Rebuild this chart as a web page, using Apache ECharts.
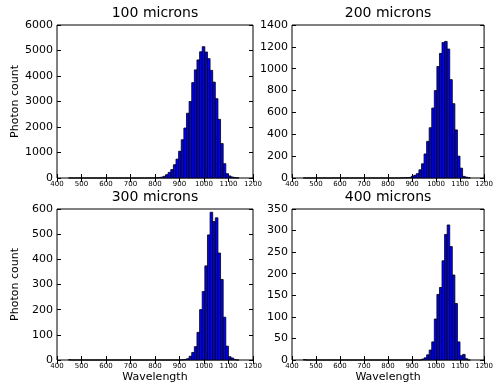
<!DOCTYPE html>
<html>
<head>
<meta charset="utf-8">
<script src="https://cdn.jsdelivr.net/npm/echarts@6/dist/echarts.min.js"></script>
<style>
  html, body { margin: 0; padding: 0; background: #fff; }
  #chart { width: 496px; height: 390px; }
</style>
</head>
<body>
<div id="chart"></div>
<script>
// histogram bin edges (wavelength), shared by all four panels
const binEdges = [
  447, 457.7, 468.4, 479.1, 489.8, 500.5, 511.2, 521.9, 532.6, 543.3,
  554, 564.7, 575.4, 586.1, 596.8, 607.5, 618.2, 628.9, 639.6, 650.3,
  661, 671.7, 682.4, 693.1, 703.8, 714.5, 725.2, 735.9, 746.6, 757.3,
  768, 778.7, 789.4, 800.1, 810.8, 821.5, 832.2, 842.9, 853.6, 864.3,
  875, 885.7, 896.4, 907.1, 917.8, 928.5, 939.2, 949.9, 960.6, 971.3,
  982, 992.7, 1003.4, 1014.1, 1024.8, 1035.5, 1046.2, 1056.9, 1067.6, 1078.3,
  1089, 1099.7, 1110.4, 1121.1, 1131.8, 1142.5
];

// photon counts per bin
const counts100 = [
  1, 0, 0, 0, 0, 0, 0, 0, 0, 0,
  0, 0, 0, 0, 0, 0, 0, 0, 0, 0,
  0, 0, 0, 0, 0, 0, 0, 0, 0, 0,
  1, 2, 4, 8, 15, 30, 65, 130, 220, 330,
  520, 740, 1050, 1500, 1960, 2540, 3000, 3740, 4240, 4630,
  4950, 5150, 4940, 4680, 4220, 3760, 3110, 2300, 1350, 560,
  170, 80, 40, 15, 5
];
const counts200 = [
  1, 0, 0, 0, 0, 0, 0, 0, 0, 0,
  0, 0, 0, 0, 0, 0, 0, 0, 0, 0,
  0, 0, 0, 0, 0, 0, 0, 0, 0, 0,
  0, 0, 0, 0, 0, 0, 0, 0, 1, 2,
  3, 5, 15, 25, 40, 75, 130, 220, 335, 460,
  640, 800, 1020, 1140, 1240, 1250, 1180, 900, 680, 440,
  200, 90, 15, 8, 2
];
const counts300 = [
  1, 0, 0, 0, 0, 0, 0, 0, 0, 0,
  0, 0, 0, 0, 0, 0, 0, 0, 0, 0,
  0, 0, 0, 0, 0, 0, 0, 0, 0, 0,
  0, 0, 0, 0, 0, 0, 0, 0, 0, 0,
  0, 0, 0, 1, 2, 5, 15, 30, 53, 110,
  200, 272, 374, 497, 587, 550, 565, 425, 320, 170,
  55, 13, 8, 2, 0
];
const counts400 = [
  1, 0, 0, 0, 0, 0, 0, 0, 0, 0,
  0, 0, 0, 0, 0, 0, 0, 0, 0, 0,
  0, 0, 0, 0, 0, 0, 0, 0, 0, 0,
  0, 0, 0, 0, 0, 0, 0, 0, 0, 0,
  0, 0, 0, 0, 0, 0, 2, 5, 12, 23,
  42, 95, 152, 168, 230, 291, 313, 263, 197, 131,
  42, 10, 13, 3, 0
];

const panelTitles = ['100 microns', '200 microns', '300 microns', '400 microns'];
const panelCounts = [counts100, counts200, counts300, counts400];
const yMax = [6000, 1400, 600, 350];
const yStep = [1000, 200, 100, 50];
const xTicks = [400, 500, 600, 700, 800, 900, 1000, 1100, 1200];

const FONT = 'DejaVu Sans';
const grids = [
  { left: 57, top: 25, width: 196, height: 153 },
  { left: 292, top: 25, width: 196, height: 153 },
  { left: 57, top: 209, width: 196, height: 151 },
  { left: 292, top: 209, width: 196, height: 151 }
];

const tick = { show: true, inside: true, length: 4, lineStyle: { color: '#000', width: 1 } };

const xAxes = [];
const yAxes = [];
const series = [];

grids.forEach((g, i) => {
  g.show = true;
  g.borderColor = '#000';
  g.borderWidth = 1;
  g.containLabel = false;

  const bottomRow = i >= 2;
  const leftCol = i % 2 === 0;

  // bottom x axis with labels
  xAxes.push({
    type: 'value', gridIndex: i, position: 'bottom',
    min: xTicks[0], max: xTicks[xTicks.length - 1], interval: 100,
    axisLine: { show: false }, axisTick: tick, splitLine: { show: false },
    axisLabel: { fontFamily: FONT, fontSize: 7, color: '#000', margin: 3, formatter: v => String(v) },
    name: bottomRow ? 'Wavelength' : '',
    nameLocation: 'middle', nameGap: 12,
    nameTextStyle: { fontFamily: FONT, fontSize: 11, color: '#000' }
  });
  // top x axis: ticks + panel title
  xAxes.push({
    type: 'value', gridIndex: i, position: 'top',
    min: xTicks[0], max: xTicks[xTicks.length - 1], interval: 100,
    axisLine: { show: false }, axisTick: tick, splitLine: { show: false },
    axisLabel: { show: false },
    name: panelTitles[i], nameLocation: 'middle', nameGap: 5,
    nameTextStyle: { fontFamily: FONT, fontSize: 14, color: '#000' }
  });
  // left y axis with labels
  yAxes.push({
    type: 'value', gridIndex: i, position: 'left',
    min: 0, max: yMax[i], interval: yStep[i],
    axisLine: { show: false }, axisTick: tick, splitLine: { show: false },
    axisLabel: { fontFamily: FONT, fontSize: 11, color: '#000', margin: 4, formatter: v => String(v) },
    name: leftCol ? 'Photon count' : '',
    nameLocation: 'middle', nameGap: 36,
    nameTextStyle: { fontFamily: FONT, fontSize: 11, color: '#000' }
  });
  // right y axis: ticks only
  yAxes.push({
    type: 'value', gridIndex: i, position: 'right',
    min: 0, max: yMax[i], interval: yStep[i],
    axisLine: { show: false }, axisTick: tick, splitLine: { show: false },
    axisLabel: { show: false }
  });

  const data = panelCounts[i].map((c, k) => [binEdges[k], binEdges[k + 1], c]);
  series.push({
    type: 'custom',
    xAxisIndex: i * 2,
    yAxisIndex: i * 2,
    encode: { x: [0, 1], y: 2 },
    data: data,
    silent: true,
    renderItem: function (params, api) {
      const topLeft = api.coord([api.value(0), api.value(2)]);
      const botRight = api.coord([api.value(1), 0]);
      return {
        type: 'rect',
        shape: {
          x: topLeft[0], y: topLeft[1],
          width: botRight[0] - topLeft[0],
          height: botRight[1] - topLeft[1]
        },
        style: { fill: '#0000ff', stroke: '#000', lineWidth: 0.8 }
      };
    }
  });
});

const chart = echarts.init(document.getElementById('chart'), null, { renderer: 'canvas' });
chart.setOption({
  animation: false,
  backgroundColor: '#fff',
  grid: grids,
  xAxis: xAxes,
  yAxis: yAxes,
  series: series
});
</script>
</body>
</html>
